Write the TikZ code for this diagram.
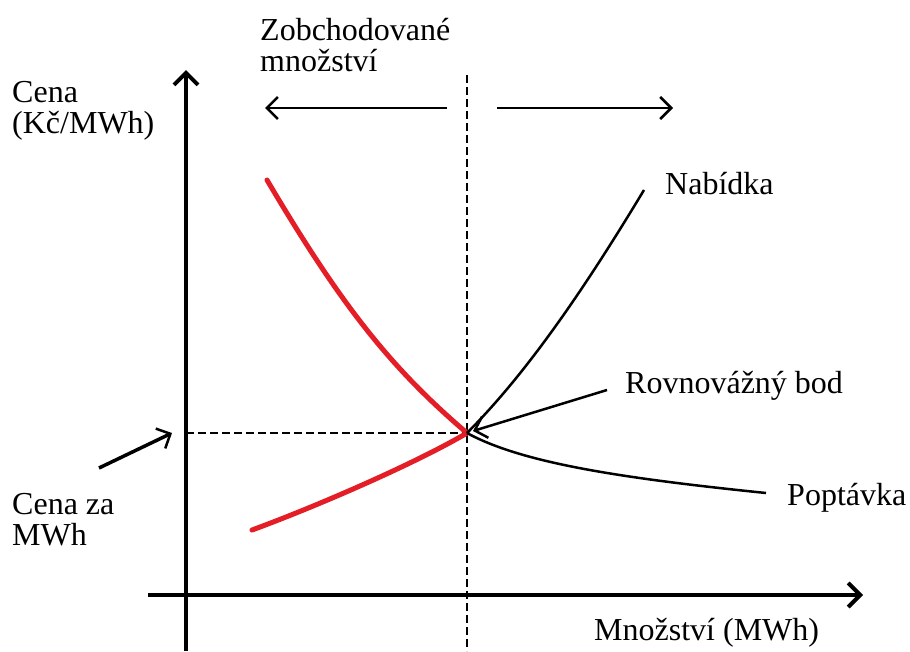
\documentclass[tikz,border=0pt]{standalone}
\usepackage{fontspec}
\setmainfont{Liberation Serif}
\usetikzlibrary{arrows.meta,positioning}
\definecolor{marketred}{RGB}{228,30,38}

\begin{document}
\begin{tikzpicture}[
  x=1pt, y=-1pt,
  font=\fontsize{32}{30.5}\selectfont,
  lbl/.style={anchor=base west, align=left, inner sep=0pt},
  axis/.style={line width=4pt, -{Straight Barb[length=12pt, width=24pt, line width=4pt]}},
  arrow/.style={line width=2.5pt, -{Straight Barb[length=11pt, width=22pt, line width=2.5pt]}},
  guide/.style={line width=2.2pt, dash pattern=on 8pt off 4pt},
  market/.style={line width=5pt, marketred, line cap=round},
  curve/.style={line width=2.5pt}
]
\useasboundingbox (0,0) rectangle (910,651);

% axes
\coordinate (o) at (186,595);
\coordinate (ytop) at (186,70);
\coordinate (ybot) at (186,651);
\coordinate (xleft) at (148,595);
\coordinate (xright) at (863,595);
\draw[axis] (ybot) -- (ytop);
\draw[axis] (xleft) -- (xright);

% equilibrium
\coordinate (eq) at (467,433);
\coordinate (qtop) at (467,75);
\coordinate (qbot) at (467,651);
\coordinate (pleft) at (186,433);
\draw[guide] (qtop) -- (qbot);
\draw[guide] (pleft) -- (eq);

% curves
\coordinate (dstart) at (267,180);
\coordinate (sstart) at (252,530);
\coordinate (send) at (644,190);
\coordinate (dend) at (766,493);
\draw[market] (dstart) .. controls (342,307) and (392,369) .. (eq);
\draw[market] (sstart) .. controls (320,505) and (418,462) .. (eq);
\draw[curve] (eq) .. controls (527,373) and (585,288) .. (send);
\draw[curve] (eq) .. controls (522,463) and (620,478) .. (dend);

% labels (base = last line)
\node[lbl] (traded) at (260,71) {Zobchodované\\množství};
\node[lbl] (price) at (12,133) {Cena\\(Kč/MWh)};
\node[lbl] (supply) at (665,194) {Nabídka};
\node[lbl] (eqlbl) at (625,393) {Rovnovážný bod};
\node[lbl] (demand) at (787,505) {Poptávka};
\node[lbl] (unit) at (12,545) {Cena za\\MWh};
\node[lbl] (qty) at (594,640) {Množství (MWh)};

% pointers
\coordinate (lfrom) at (447,108);
\coordinate (lto) at (265,108);
\coordinate (rfrom) at (497,108);
\coordinate (rto) at (673,108);
\coordinate (eqfrom) at (607,390);
\coordinate (eqto) at (473,431);
\coordinate (ufrom) at (99,468);
\coordinate (uto) at (172,433);
\draw[arrow] (lfrom) -- (lto);
\draw[arrow] (rfrom) -- (rto);
\draw[arrow] (eqfrom) -- (eqto);
\draw[arrow, line width=3.5pt] (ufrom) -- (uto);
\end{tikzpicture}
\end{document}
